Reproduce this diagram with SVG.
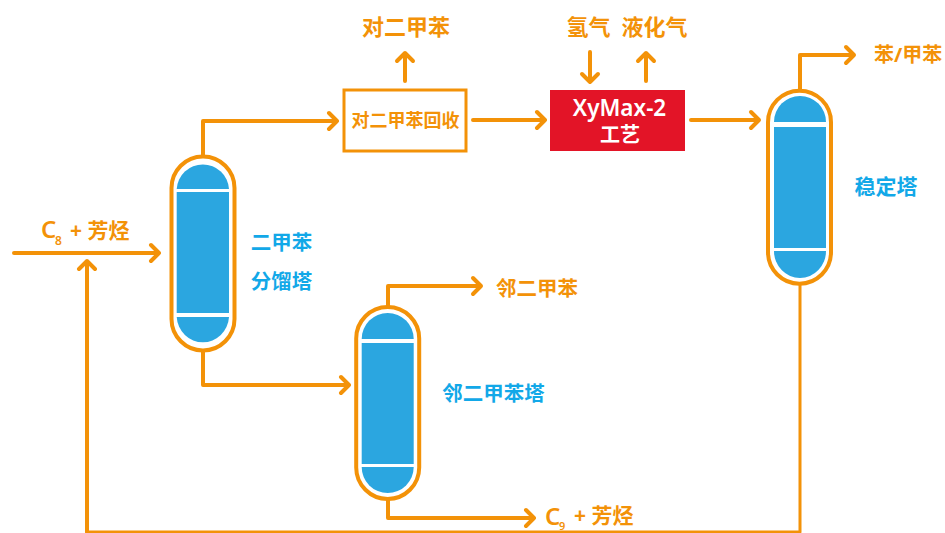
<svg xmlns="http://www.w3.org/2000/svg" width="945" height="533" viewBox="0 0 945 533">
<style>
text{font-family:"Noto Sans","Noto Sans CJK SC",sans-serif;font-weight:700}
.o{fill:#f39208}
.b{fill:#12a8e8}
.w{fill:#fff}
.m{font-size:20.500px;text-anchor:middle}
.t{font-size:22px;text-anchor:middle}
.l{font-weight:600}
.shell{fill:#fff;stroke:#f39208;stroke-width:4}
.blue{fill:#2ba6e0}
.c{fill:none;stroke:#f39208;stroke-width:4;stroke-linecap:round;stroke-linejoin:round}
</style>
<rect width="945" height="533" fill="#fff"/>
<g id="connectors" class="c">
<path d="M14 253H159M151 245l8 8-8 8"/>
<path d="M87 532V261M79 269l8-8 8 8"/>
<path d="M87 532H800V284" stroke-width="3"/>
<path d="M203 156V121H337M329 113l8 8-8 8"/>
<path d="M203 351V385H349M341 377l8 8-8 8"/>
<path d="M388 307V286H481M473 278l8 8-8 8"/>
<path d="M388 499V518H534M526 510l8 8-8 8"/>
<path d="M473 120H545M537 112l8 8-8 8"/>
<path d="M691 120H759M751 112l8 8-8 8"/>
<path d="M405 81V53M397 61l8-8 8 8"/>
<path d="M590 52V82M582 74l8 8 8-8"/>
<path d="M646 81V53M638 61l8-8 8 8"/>
<path d="M800 90V55H854M846 47l8 8-8 8"/>
</g>
<g id="column-xylene">
<rect class="shell" x="171.500" y="156.500" width="63" height="194" rx="31.500"/>
<path class="blue" d="M176.700 189A26.200 26.200 0 0 1 229 189Z"/>
<rect class="blue" x="176.700" y="192" width="52.300" height="121"/>
<path class="blue" d="M176.700 317H229A26.200 27 0 0 1 176.700 317Z"/>
<text class="b m" x="281.500" y="250">二甲苯</text>
<text class="b m" x="281.500" y="289">分馏塔</text>
</g>
<g id="column-ortho">
<rect class="shell" x="356.200" y="307" width="63" height="192" rx="31.500"/>
<path class="blue" d="M361.700 339A26 26 0 0 1 413.700 339Z"/>
<rect class="blue" x="361.700" y="343" width="52" height="121"/>
<path class="blue" d="M361.700 467H413.700A26 26 0 0 1 361.700 467Z"/>
<text class="b m" x="493.500" y="401">邻二甲苯塔</text>
</g>
<g id="column-stabilizer">
<rect class="shell" x="768" y="90.700" width="63" height="193" rx="31.500"/>
<path class="blue" d="M774 122A26 26 0 0 1 826 122Z"/>
<rect class="blue" x="774" y="127" width="52" height="121"/>
<path class="blue" d="M774 251H826A26 27 0 0 1 774 251Z"/>
<text class="b m" x="886" y="194" style="font-size:21px">稳定塔</text>
</g>
<g id="px-recovery">
<rect x="344" y="90" width="122" height="61" fill="#fff" stroke="#f39208" stroke-width="3"/>
<text class="o" x="405.500" y="127" font-size="18" text-anchor="middle">对二甲苯回收</text>
</g>
<g id="xymax">
<rect x="550" y="90" width="135" height="61" fill="#e31427"/>
<text class="w l" x="619.500" y="116" font-size="22.500" text-anchor="middle">XyMax-2</text>
<text class="w" x="620" y="142" font-size="20" text-anchor="middle">工艺</text>
</g>
<g id="labels">
<text class="o t" x="406" y="35">对二甲苯</text>
<text class="o t" x="588.500" y="35">氢气</text>
<text class="o t" x="654.500" y="35">液化气</text>
<text class="o" x="874" y="62" font-size="20">苯/甲苯</text>
<text class="o l" x="41" y="238" font-size="24">C</text>
<text class="o l" x="55" y="245" font-size="12">8</text>
<text class="o" x="70" y="238" font-size="21">+ 芳烃</text>
<text class="o m" x="537" y="296">邻二甲苯</text>
<text class="o l" x="545" y="525" font-size="24">C</text>
<text class="o l" x="559" y="529.500" font-size="11">9</text>
<text class="o" x="574" y="523" font-size="21">+ 芳烃</text>
</g>
</svg>
